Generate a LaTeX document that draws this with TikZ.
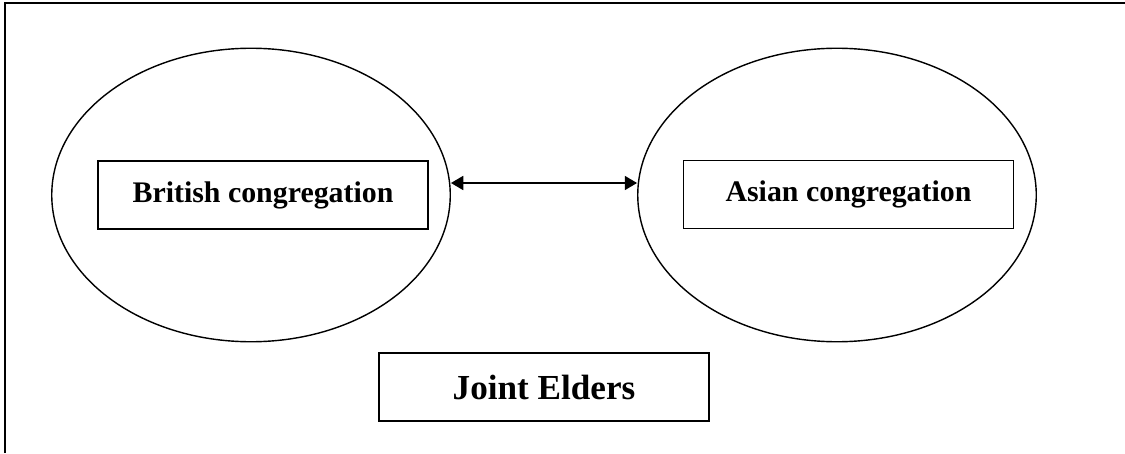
\documentclass[tikz,border=0pt]{standalone}
\usepackage{fontspec}
\setmainfont{Liberation Serif}
\usetikzlibrary{shapes.geometric,arrows.meta}
\begin{document}
\begin{tikzpicture}[
		ring/.style={ellipse, draw, line width=0.8pt, inner sep=0pt, minimum width=7.97cm, minimum height=5.87cm},
		congbox/.style={rectangle, draw, line width=1pt, minimum width=6.6cm, minimum height=1.36cm, font=\fontsize{17}{20}\selectfont\bfseries}
	]
		\useasboundingbox (0,0) rectangle (22.5,9.06);
		% Frame
		\draw[line width=1.2pt] (0.1,0) -- (0.1,9.0) -- (22.5,9.0);
		
		% Left congregation
		\node[ring] (Lring) at (5.02,5.16) {};
		\node[congbox] (British) at (5.26,5.16) {British congregation};
		
		% Right congregation
		\node[ring] (Rring) at (16.74,5.16) {};
		\node[congbox] (Asian) at (16.97,5.17) {Asian congregation};
		
		% Two-way link
		\draw[line width=0.9pt, {Triangle[length=7pt,width=8pt]}-{Triangle[length=7pt,width=8pt]}] ([yshift=0.24cm]Lring.east) -- ([yshift=0.24cm]Rring.west);
		
		% Elders
		\node[congbox, font=\fontsize{20}{24}\selectfont\bfseries] (Elders) at (10.88,1.32) {Joint Elders};
	\end{tikzpicture}
\end{document}
